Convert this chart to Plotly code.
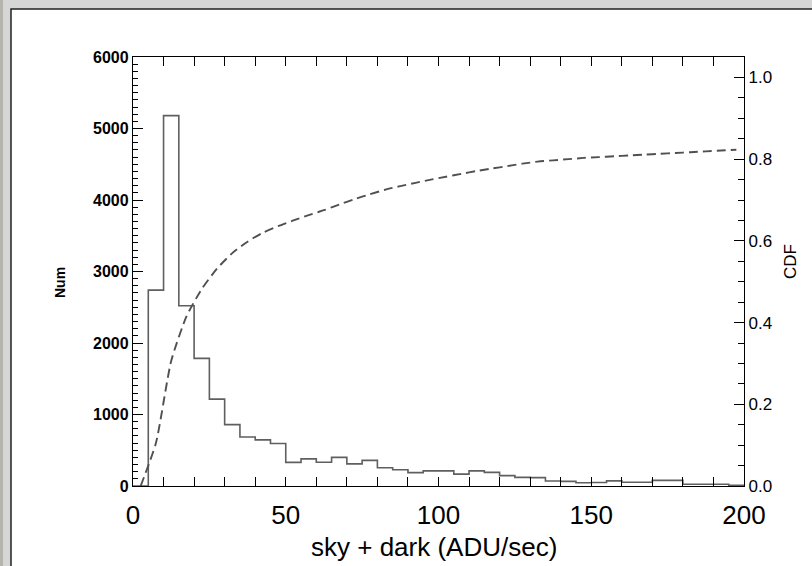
import plotly.graph_objects as go

# ---- data ----
bin_edges = [0, 5, 10, 15, 20, 25, 30, 35, 40, 45, 50, 55, 60, 65, 70, 75, 80, 85, 90, 95,
             100, 105, 110, 115, 120, 125, 130, 135, 140, 145, 150, 155, 160, 165, 170, 175,
             180, 185, 190, 195, 200]
counts = [0, 2740, 5180, 2520, 1785, 1215, 858, 685, 645, 595,
          330, 380, 332, 400, 310, 358, 256, 228, 187, 211,
          211, 166, 211, 190, 145, 120, 117, 69, 64, 45,
          48, 72, 52, 52, 78, 78, 24, 24, 24, 10]

cdf_x = [2.5, 7.5, 12.5, 17.5, 22.5, 27.5, 32.5, 37.5, 42.5, 47.5,
         52.5, 57.5, 62.5, 67.5, 72.5, 77.5, 82.5, 87.5, 92.5, 97.5,
         102.5, 107.5, 112.5, 117.5, 122.5, 127.5, 132.5, 137.5, 142.5, 147.5,
         152.5, 157.5, 162.5, 167.5, 172.5, 177.5, 182.5, 187.5, 192.5, 197.5]
cdf_y = [0.0, 0.105, 0.306, 0.415, 0.482, 0.532, 0.570, 0.598, 0.620, 0.636,
         0.650, 0.663, 0.675, 0.689, 0.702, 0.714, 0.725, 0.734, 0.742, 0.750,
         0.757, 0.764, 0.771, 0.777, 0.783, 0.789, 0.794, 0.797, 0.800, 0.803,
         0.805, 0.807, 0.809, 0.811, 0.813, 0.815, 0.817, 0.819, 0.821, 0.823]

x_title = "sky + dark (ADU/sec)"
y_title = "Num"
y2_title = "CDF"

# ---- geometry (pixels) ----
W, H = 812, 566
L, R, T, B = 133, 744, 57, 486
PW, PH = R - L, B - T


def px(x):
    return (x - L) / PW


def py(y):
    return (B - y) / PH


FONT = "Liberation Sans, Arial, Helvetica, sans-serif"

fig = go.Figure()

fig.add_trace(go.Scatter(
    x=bin_edges, y=counts + [0], mode="lines", line_shape="hv",
    line=dict(color="#5f5f5f", width=1.6), showlegend=False, hoverinfo="skip"))

fig.add_trace(go.Scatter(
    x=cdf_x, y=cdf_y, mode="lines", yaxis="y2", line_shape="spline",
    line=dict(color="#505050", width=1.9, dash="9px,5px", smoothing=0.6),
    showlegend=False, hoverinfo="skip"))

fig.update_layout(
    width=W, height=H,
    margin=dict(l=L, r=W - R, t=T, b=H - B, pad=0),
    paper_bgcolor="#d6d6d6",
    plot_bgcolor="white",
    font=dict(family=FONT, color="black"),
    showlegend=False,
    xaxis=dict(
        range=[0, 200], dtick=50, tick0=0, showgrid=False, zeroline=False,
        showline=True, linecolor="black", linewidth=1.4, mirror="allticks",
        ticks="inside", ticklen=9, tickwidth=1.2, tickcolor="black",
        minor=dict(dtick=10, ticks="inside", ticklen=5, tickwidth=1.1, tickcolor="black"),
        tickfont=dict(size=26, family=FONT), ticklabelstandoff=6,
    ),
    yaxis=dict(
        range=[0, 6000], dtick=1000, tick0=0, tickformat="d", showgrid=False,
        zeroline=False, showline=True, linecolor="black", linewidth=1.4,
        ticks="inside", ticklen=10, tickwidth=1.2, tickcolor="black",
        minor=dict(dtick=100, ticks="inside", ticklen=5, tickwidth=1.1, tickcolor="black"),
        tickfont=dict(size=16, family=FONT, weight="bold"),
    ),
    yaxis2=dict(
        range=[0, 1.05], dtick=0.2, tick0=0, tickformat=".1f", overlaying="y",
        side="right", showgrid=False, zeroline=False, showline=True,
        linecolor="black", linewidth=1.4,
        ticks="inside", ticklen=10, tickwidth=1.2, tickcolor="black",
        minor=dict(dtick=0.05, ticks="inside", ticklen=6, tickwidth=1.1, tickcolor="black"),
        tickfont=dict(size=17, family=FONT),
    ),
    shapes=[
        # left darker window strip
        dict(type="rect", xref="paper", yref="paper", layer="below",
             x0=px(-2), x1=px(3), y0=py(H + 5), y1=py(-5),
             fillcolor="#b4b4ac", line=dict(width=0)),
        # white panel with dark border
        dict(type="rect", xref="paper", yref="paper", layer="below",
             x0=px(11), x1=px(W + 10), y0=py(H + 10), y1=py(9),
             fillcolor="white", line=dict(color="#222222", width=1.5)),
    ],
    annotations=[
        dict(text=x_title, xref="paper", yref="paper", x=px(434), y=py(547),
             xanchor="center", yanchor="middle", showarrow=False,
             font=dict(size=26, family=FONT)),
        dict(text=y_title, xref="paper", yref="paper", x=px(60), y=py(283),
             xanchor="center", yanchor="middle", showarrow=False, textangle=-90,
             font=dict(size=14, family=FONT, weight="bold")),
        dict(text=y2_title, xref="paper", yref="paper", x=px(790), y=py(262),
             xanchor="center", yanchor="middle", showarrow=False, textangle=-90,
             font=dict(size=17, family=FONT)),
    ],
)

fig.write_html("out.html", config={"displayModeBar": False},
               post_script="document.body.style.margin='0px';")
